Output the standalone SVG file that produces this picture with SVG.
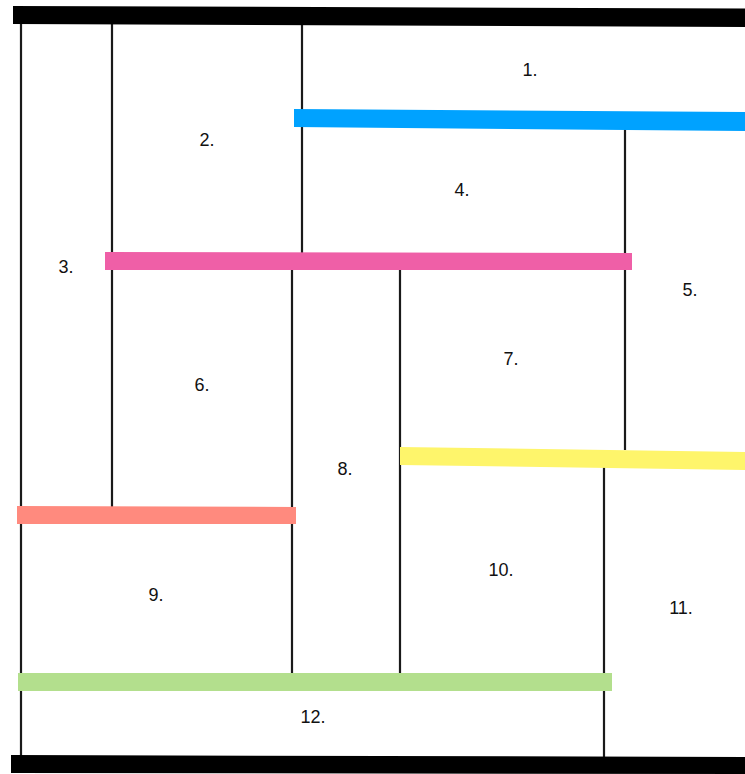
<svg xmlns="http://www.w3.org/2000/svg" width="745" height="774" viewBox="0 0 745 774">
<style>
.bg{fill:#ffffff}
.wall{fill:#000000}
.v{stroke:#1a1a1a;stroke-width:2.2;fill:none}
.lbl{font-family:"Liberation Sans",Arial,sans-serif;font-size:18px;fill:#111111;text-anchor:middle}
</style>
<rect class="bg" x="0" y="0" width="745" height="774"/>
<g id="connectors">
  <line class="v" x1="21" y1="22" x2="21" y2="757"/>
  <line class="v" x1="112" y1="22" x2="112" y2="507"/>
  <line class="v" x1="302" y1="22" x2="302" y2="253"/>
  <line class="v" x1="625" y1="125" x2="625" y2="450"/>
  <line class="v" x1="292" y1="268" x2="292" y2="674"/>
  <line class="v" x1="400" y1="268" x2="400" y2="674"/>
  <line class="v" x1="604" y1="466" x2="604" y2="757"/>
</g>
<g id="walls">
  <polygon id="top-bar" class="wall" points="13,6 745,8.5 745,27 13,24"/>
  <polygon id="bottom-bar" class="wall" points="11,755 745,757 745,774 11,773"/>
</g>
<g id="bars">
  <polygon id="bar-blue" fill="#00A2FF" points="294,109 745,112 745,131 294,127"/>
  <polygon id="bar-pink" fill="#EF5FA7" points="105,252 632,253 632,270 105,270"/>
  <polygon id="bar-yellow" fill="#FEF56B" points="400,447 745,452 745,470 400,465"/>
  <polygon id="bar-salmon" fill="#FF8A7E" points="17,506 296,507 296,524 17,524"/>
  <polygon id="bar-green" fill="#B3DF8D" points="18,673 612,673 612,691 18,691"/>
</g>
<g id="n1"><text class="lbl" x="530" y="76">1.</text></g>
<g id="n2"><text class="lbl" x="207" y="146">2.</text></g>
<g id="n3"><text class="lbl" x="66" y="273">3.</text></g>
<g id="n4"><text class="lbl" x="462" y="196">4.</text></g>
<g id="n5"><text class="lbl" x="690" y="296">5.</text></g>
<g id="n6"><text class="lbl" x="202" y="391">6.</text></g>
<g id="n7"><text class="lbl" x="511" y="365">7.</text></g>
<g id="n8"><text class="lbl" x="345" y="475">8.</text></g>
<g id="n9"><text class="lbl" x="156" y="601">9.</text></g>
<g id="n10"><text class="lbl" x="501" y="576">10.</text></g>
<g id="n11"><text class="lbl" x="681" y="614">11.</text></g>
<g id="n12"><text class="lbl" x="313" y="723">12.</text></g>
</svg>
